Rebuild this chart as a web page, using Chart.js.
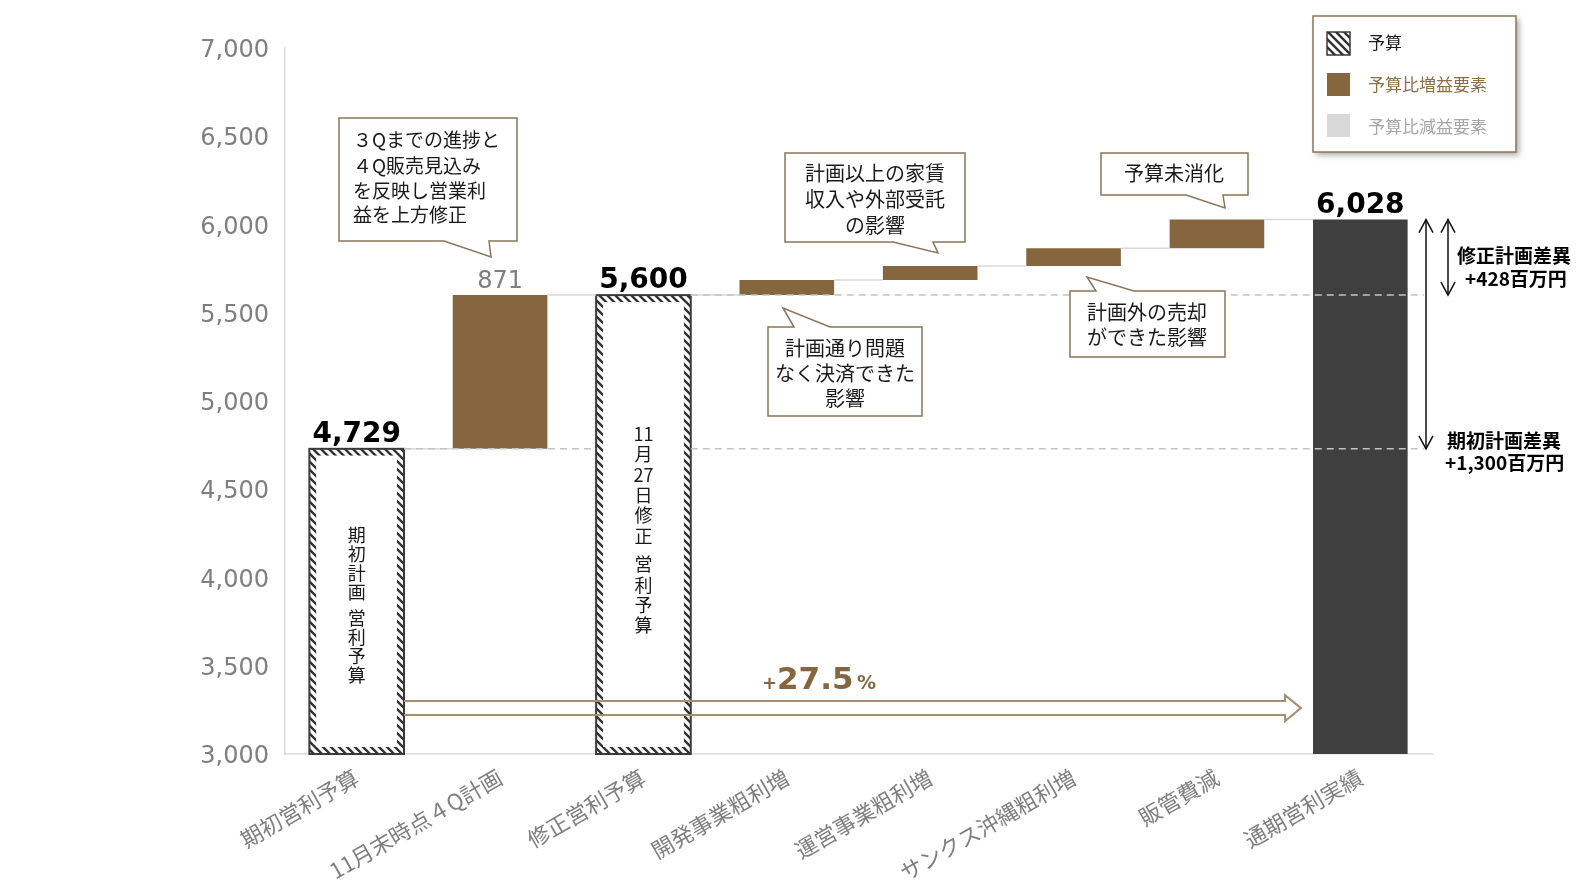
<!DOCTYPE html>
<html lang="ja">
<head>
<meta charset="utf-8">
<title>通期営業利益 予算比</title>
<script src="https://cdn.jsdelivr.net/npm/chart.js@4.4.1/dist/chart.umd.min.js"></script>
<style>
  html, body { margin: 0; padding: 0; background: #fff; }
</style>
</head>
<body>
<canvas id="graf" width="1584" height="884"></canvas>
<script>
// dados do gráfico (百万円)
var categories = ['期初営利予算', '11月末時点４Q計画', '修正営利予算', '開発事業粗利増', '運営事業粗利増', 'サンクス沖縄粗利増', '販管費減', '通期営利実績'];
var barFrom = [3000, 4729, 3000, 5600, 5685, 5765, 5865, 3000];
var barTo   = [4729, 5600, 5600, 5685, 5765, 5865, 6028, 6028];
var barKind = ['budget', 'plus', 'budget', 'plus', 'plus', 'plus', 'plus', 'actual'];
var valueLabels = ['4,729', '871', '5,600', '', '', '', '', '6,028'];
var yMin = 3000, yMax = 7000, yStep = 500;

var BROWN = '#86663f';
var DARK = '#3f3f3f';
var JP = '"Noto Sans CJK JP", "Noto Sans", sans-serif';
var NUM = '"DejaVu Sans", Verdana, sans-serif';

var canvas = document.getElementById('graf');
var ctx0 = canvas.getContext('2d');

// hachura das barras de orçamento
function makeHatch() {
  var c = document.createElement('canvas');
  c.width = 8; c.height = 8;
  var g = c.getContext('2d');
  g.fillStyle = '#fff';
  g.fillRect(0, 0, 8, 8);
  g.strokeStyle = '#333';
  g.lineWidth = 2.4;
  g.beginPath();
  g.moveTo(-2, -2); g.lineTo(10, 10);
  g.moveTo(-2, 6); g.lineTo(2, 10);
  g.moveTo(6, -2); g.lineTo(10, 2);
  g.stroke();
  return ctx0.createPattern(c, 'repeat');
}
var hatch = makeHatch();
var BAND = 7;

function line(ctx, x1, y1, x2, y2) {
  ctx.beginPath();
  ctx.moveTo(x1, y1);
  ctx.lineTo(x2, y2);
  ctx.stroke();
}

// texto vertical, um caractere (ou grupo) por vez
function verticalText(ctx, parts, x, y, step, gap) {
  ctx.font = '18px ' + JP;
  ctx.fillStyle = '#1a1a1a';
  ctx.textAlign = 'center';
  ctx.textBaseline = 'middle';
  parts.forEach(function (p) {
    if (p == ' ') { y += gap; return; }
    ctx.fillText(p, x, y);
    y += step;
  });
}

// balões de comentário
var callouts = [
  { box: [339, 118, 178, 123], side: 'bottom', tail: [444, 489, 491, 257], size: 19, align: 'left', tx: 353,
    lines: ['３Qまでの進捗と', '４Q販売見込み', 'を反映し営業利', '益を上方修正'], ty: [140, 166, 191, 215] },
  { box: [785, 153, 180, 89], side: 'bottom', tail: [893, 933, 938, 253], size: 20, align: 'center', tx: 875,
    lines: ['計画以上の家賃', '収入や外部受託', 'の影響'], ty: [173, 199, 225] },
  { box: [768, 327, 154, 89], side: 'top', tail: [794, 830, 783, 308], size: 20, align: 'center', tx: 845,
    lines: ['計画通り問題', 'なく決済できた', '影響'], ty: [348, 373, 398] },
  { box: [1070, 291, 155, 66], side: 'top', tail: [1096, 1134, 1087, 277], size: 20, align: 'center', tx: 1147,
    lines: ['計画外の売却', 'ができた影響'], ty: [312, 337] },
  { box: [1101, 153, 147, 42], side: 'bottom', tail: [1186, 1223, 1225, 208], size: 20, align: 'center', tx: 1174,
    lines: ['予算未消化'], ty: [173] }
];

function drawCallout(ctx, c) {
  var x = c.box[0], y = c.box[1], w = c.box[2], h = c.box[3];
  var t = c.tail;
  ctx.beginPath();
  if (c.side == 'bottom') {
    ctx.moveTo(x, y); ctx.lineTo(x + w, y); ctx.lineTo(x + w, y + h);
    ctx.lineTo(t[1], y + h); ctx.lineTo(t[2], t[3]); ctx.lineTo(t[0], y + h);
    ctx.lineTo(x, y + h);
  } else {
    ctx.moveTo(x, y); ctx.lineTo(t[0], y); ctx.lineTo(t[2], t[3]); ctx.lineTo(t[1], y);
    ctx.lineTo(x + w, y); ctx.lineTo(x + w, y + h); ctx.lineTo(x, y + h);
  }
  ctx.closePath();
  ctx.fillStyle = '#fff';
  ctx.fill();
  ctx.strokeStyle = '#8b7457';
  ctx.lineWidth = 1.5;
  ctx.stroke();
  ctx.font = c.size + 'px ' + JP;
  ctx.fillStyle = '#1a1a1a';
  ctx.textAlign = c.align;
  ctx.textBaseline = 'middle';
  c.lines.forEach(function (s, i) { ctx.fillText(s, c.tx, c.ty[i]); });
}

function arrowHead(ctx, x, y, dir) {
  ctx.beginPath();
  ctx.moveTo(x - 7, y - dir * 13);
  ctx.lineTo(x, y);
  ctx.lineTo(x + 7, y - dir * 13);
  ctx.stroke();
}

var extras = {
  id: 'extras',
  afterDatasetsDraw: function (chart) {
    var ctx = chart.ctx;
    var bars = chart.getDatasetMeta(0).data;
    var ys = chart.scales.y;
    var area = chart.chartArea;
    ctx.save();

    // contorno das barras de orçamento
    ctx.strokeStyle = '#3a3a3a';
    ctx.lineWidth = 2;
    bars.forEach(function (b, i) {
      if (barKind[i] != 'budget') return;
      ctx.strokeRect(b.x - b.width / 2, b.y, b.width, b.base - b.y);
    });

    // linhas de ligação entre as barras
    ctx.strokeStyle = '#d9d9d9';
    ctx.lineWidth = 1.5;
    for (var i = 0; i < bars.length - 1; i++) {
      var yy = ys.getPixelForValue(barTo[i]);
      line(ctx, bars[i].x + bars[i].width / 2, yy, bars[i + 1].x - bars[i + 1].width / 2, yy);
    }

    // linhas tracejadas dos orçamentos
    ctx.strokeStyle = '#c4c4c4';
    ctx.setLineDash([7, 5]);
    [0, 2].forEach(function (k) {
      var yy = ys.getPixelForValue(barTo[k]);
      var x = bars[k].x + bars[k].width / 2;
      for (var j = k + 1; j < bars.length; j++) {
        if (barKind[j] == 'budget') {
          line(ctx, x, yy, bars[j].x - bars[j].width / 2, yy);
          x = bars[j].x + bars[j].width / 2;
        }
      }
      line(ctx, x, yy, area.right - 8, yy);
    });
    ctx.setLineDash([]);

    // rótulos de valor
    ctx.textAlign = 'center';
    ctx.textBaseline = 'alphabetic';
    bars.forEach(function (b, i) {
      if (!valueLabels[i]) return;
      if (barKind[i] == 'plus') {
        ctx.font = '24px ' + NUM;
        ctx.fillStyle = '#7f7f7f';
      } else {
        ctx.font = 'bold 28px ' + NUM;
        ctx.fillStyle = '#000';
      }
      ctx.fillText(valueLabels[i], b.x, b.y - 7);
    });

    // textos dentro das barras de orçamento
    verticalText(ctx, ['期', '初', '計', '画', ' ', '営', '利', '予', '算'], bars[0].x, 535, 19.2, 6);
    verticalText(ctx, ['11', '月', '27', '日', '修', '正', ' ', '営', '利', '予', '算'], bars[2].x, 434, 20.4, 8);

    // balões
    callouts.forEach(function (c) { drawCallout(ctx, c); });

    // seta +27.5%
    var xa = bars[0].x + bars[0].width / 2;
    var xb = bars[7].x - bars[7].width / 2 - 12;
    var ym = ys.getPixelForValue(3260);
    ctx.strokeStyle = '#a68e70';
    ctx.lineWidth = 2;
    ctx.beginPath();
    ctx.moveTo(xa, ym - 7); ctx.lineTo(xb - 16, ym - 7); ctx.lineTo(xb - 16, ym - 13);
    ctx.lineTo(xb, ym); ctx.lineTo(xb - 16, ym + 13); ctx.lineTo(xb - 16, ym + 7);
    ctx.lineTo(xa, ym + 7);
    ctx.stroke();
    var pct = ((barTo[7] - barTo[0]) / barTo[0] * 100).toFixed(1);
    ctx.fillStyle = BROWN;
    ctx.textAlign = 'left';
    ctx.textBaseline = 'alphabetic';
    ctx.font = 'bold 18px ' + NUM;
    ctx.fillText('+', 762, 689);
    ctx.font = 'bold 31px ' + NUM;
    ctx.fillText(pct, 777, 689);
    ctx.font = 'bold 19px ' + NUM;
    ctx.fillText('%', 857, 689);

    // setas de diferença à direita
    var yTop = ys.getPixelForValue(barTo[7]);
    var y1 = ys.getPixelForValue(barTo[0]);
    var y2 = ys.getPixelForValue(barTo[2]);
    ctx.strokeStyle = '#111';
    ctx.lineWidth = 1.5;
    line(ctx, 1426, yTop, 1426, y1);
    arrowHead(ctx, 1426, yTop, -1);
    arrowHead(ctx, 1426, y1, 1);
    line(ctx, 1448, yTop, 1448, y2);
    arrowHead(ctx, 1448, yTop, -1);
    arrowHead(ctx, 1448, y2, 1);
    ctx.fillStyle = '#000';
    ctx.font = 'bold 19px ' + JP;
    ctx.textBaseline = 'middle';
    ctx.fillText('修正計画差異', 1457, 256);
    ctx.fillText('+428百万円', 1465, 279);
    ctx.fillText('期初計画差異', 1447, 441);
    ctx.fillText('+1,300百万円', 1445, 463);

    // legenda
    ctx.save();
    ctx.shadowColor = 'rgba(0,0,0,0.35)';
    ctx.shadowBlur = 6;
    ctx.shadowOffsetX = 3;
    ctx.shadowOffsetY = 3;
    ctx.fillStyle = '#fff';
    ctx.fillRect(1313, 16, 203, 136);
    ctx.restore();
    ctx.strokeStyle = '#8b7457';
    ctx.lineWidth = 1.5;
    ctx.strokeRect(1313, 16, 203, 136);
    ctx.fillStyle = hatch;
    ctx.fillRect(1327, 32, 23, 23);
    ctx.strokeStyle = '#3a3a3a';
    ctx.lineWidth = 1.5;
    ctx.strokeRect(1327, 32, 23, 23);
    ctx.fillStyle = BROWN;
    ctx.fillRect(1327, 73, 23, 23);
    ctx.fillStyle = '#d9d9d9';
    ctx.fillRect(1327, 114, 23, 23);
    ctx.font = '17px ' + JP;
    ctx.textAlign = 'left';
    ctx.textBaseline = 'middle';
    ctx.fillStyle = '#1a1a1a';
    ctx.fillText('予算', 1368, 43);
    ctx.fillStyle = '#8c6d46';
    ctx.fillText('予算比増益要素', 1368, 85);
    ctx.fillStyle = '#a6a6a6';
    ctx.fillText('予算比減益要素', 1368, 127);

    ctx.restore();
  }
};

var graf = new Chart(canvas, {
  type: 'bar',
  data: {
    labels: categories,
    datasets: [{
      data: barFrom.map(function (v, i) { return [v, barTo[i]]; }),
      backgroundColor: barKind.map(function (k) { return k == 'budget' ? '#ffffff' : (k == 'plus' ? BROWN : DARK); }),
      borderColor: barKind.map(function (k) { return k == 'budget' ? hatch : 'rgba(0,0,0,0)'; }),
      borderWidth: barKind.map(function (k) { return k == 'budget' ? BAND : 0; }),
      borderSkipped: false,
      barPercentage: 0.66,
      categoryPercentage: 1
    }]
  },
  options: {
    responsive: false,
    animation: false,
    events: [],
    layout: { padding: { top: 48, right: 152, left: 0, bottom: 0 } },
    plugins: {
      legend: { display: false },
      tooltip: { enabled: false }
    },
    scales: {
      x: {
        grid: { display: false, drawTicks: false },
        border: { color: '#d9d9d9', width: 1.5 },
        ticks: {
          autoSkip: false,
          minRotation: 30,
          maxRotation: 30,
          padding: 10,
          color: '#7f7f7f',
          font: { family: JP, size: 22 }
        },
        afterFit: function (s) { s.height = 130; }
      },
      y: {
        min: yMin,
        max: yMax,
        grid: { display: false, drawTicks: false },
        border: { color: '#d9d9d9', width: 1.5 },
        ticks: {
          stepSize: yStep,
          padding: 16,
          labelOffset: 3,
          color: '#7f7f7f',
          font: { family: NUM, size: 24 },
          callback: function (v) { return v.toLocaleString('en-US'); }
        },
        afterFit: function (s) { s.width = 285; }
      }
    }
  },
  plugins: [extras]
});
</script>
</body>
</html>
